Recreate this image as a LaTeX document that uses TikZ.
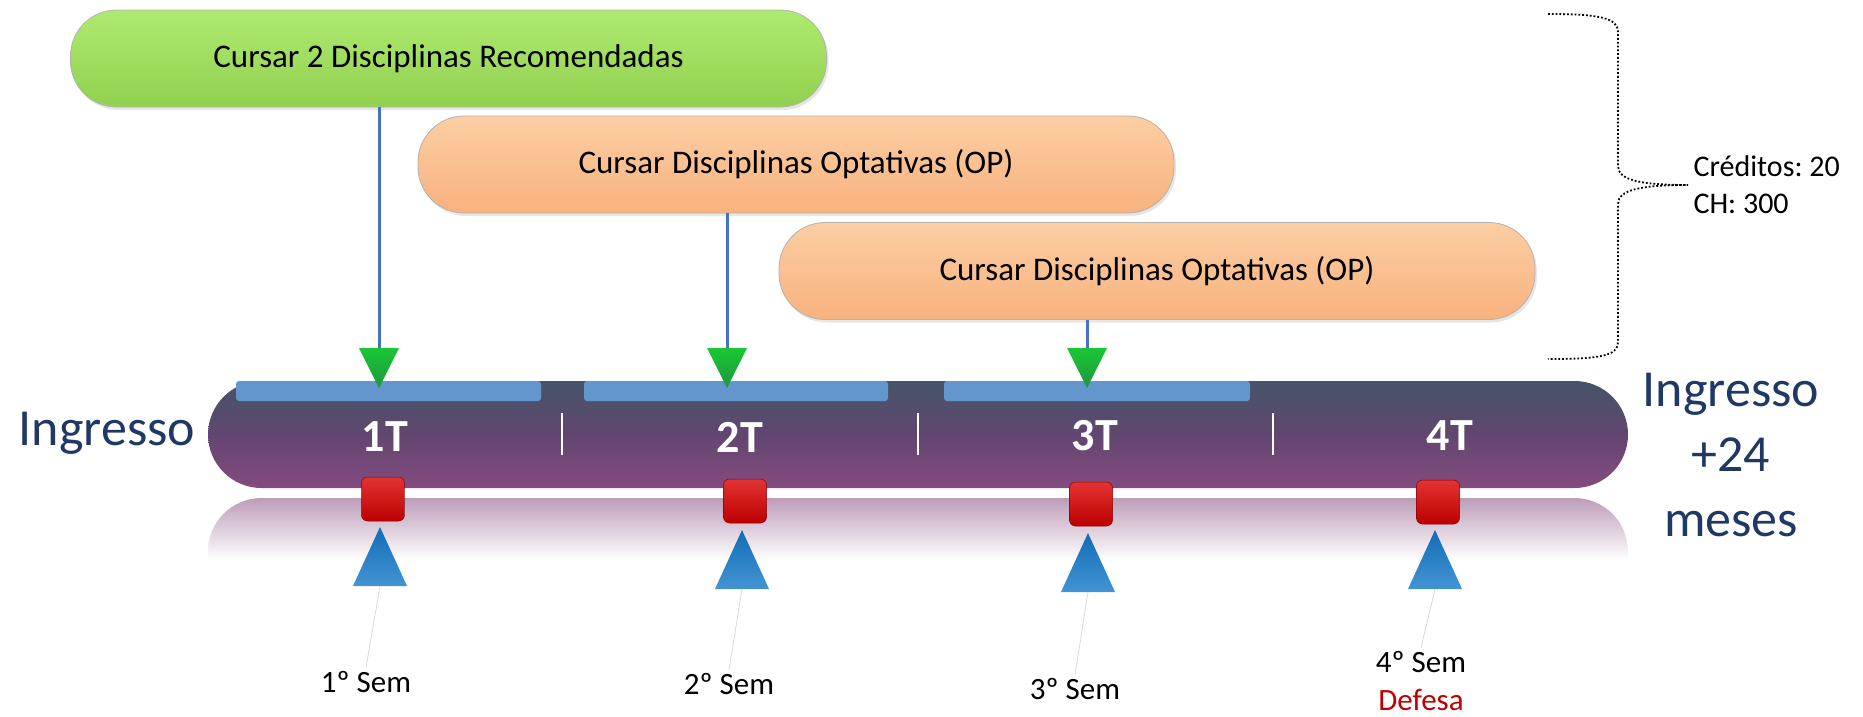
\documentclass[tikz,border=0pt]{standalone}
\usepackage{fontspec}
\setmainfont{Carlito}
\usepackage{xcolor}
\usepackage{tikz}
\usetikzlibrary{calc,shadows}
\frenchspacing
\definecolor{recgreen}{RGB}{146,208,80}
\definecolor{recgreenlt}{RGB}{174,234,112}
\definecolor{optorange}{RGB}{248,178,126}
\definecolor{optorangelt}{RGB}{252,206,164}
\definecolor{barslate}{RGB}{68,84,106}
\definecolor{barpurple}{RGB}{122,59,115}
\definecolor{segblue}{RGB}{98,150,204}
\definecolor{linkblue}{RGB}{68,114,196}
\definecolor{tipgreen}{RGB}{36,176,74}
\definecolor{markred}{RGB}{221,0,0}
\definecolor{semblue}{RGB}{20,121,201}
\definecolor{navy}{RGB}{31,56,100}
\definecolor{defred}{RGB}{192,0,0}
\tikzset{
  % caixas das disciplinas
  course/.style={
    draw=black!30,
    line width=0.8pt,
    rounded corners=46pt,
    minimum width=756pt,
    minimum height=97pt,
    font=\fontsize{33}{40}\selectfont,
    drop shadow={shadow xshift=2pt, shadow yshift=-3pt, opacity=0.2}
  },
  recbox/.style={course, top color=recgreenlt, bottom color=recgreen},
  optbox/.style={course, top color=optorangelt, bottom color=optorange},
  % linha do tempo
  timebar/.style={
    rounded corners=53.5pt,
    minimum width=1420pt,
    minimum height=107pt,
    top color=barslate,
    bottom color=barpurple!92!white,
    middle color=barpurple!55!barslate
  },
  quarter/.style={text=white, font=\bfseries\fontsize{46}{50}\selectfont},
  segment/.style={fill=segblue, rounded corners=3pt},
  sep/.style={draw=white, line width=2pt},
  % conectores e marcas
  link/.style={draw=linkblue, line width=3pt},
  downtip/.style={top color=tipgreen!70!green, bottom color=tipgreen!85!black},
  markbox/.style={
    minimum width=43pt,
    minimum height=44pt,
    rounded corners=6pt,
    top color=markred!80!white,
    bottom color=markred!85!black,
    draw=markred!60!black,
    line width=0.5pt
  },
  uptip/.style={top color=semblue!90!black, bottom color=semblue!80!white},
  leader/.style={draw=black!15, line width=0.8pt},
  semlabel/.style={font=\fontsize{31}{38}\selectfont, align=center},
  bigtext/.style={text=navy, font=\fontsize{52}{65}\selectfont, align=center},
  credit/.style={font=\fontsize{30}{37}\selectfont, align=left},
  brace/.style={draw=black, line width=1.8pt, dotted},
}

\begin{document}
\begin{tikzpicture}[x=1pt, y=-1pt]
    \useasboundingbox (0,0) rectangle (1863,716);

    % Reflexo da barra
    \begin{scope}
        \clip[rounded corners=53.5pt] (208,498) rectangle (1628,605);
        \shade[top color=barpurple!50!white, bottom color=white] (208,498) rectangle (1628,560);
    \end{scope}

    % Barra da linha do tempo
    \node[timebar] (bar) at (918,434.5) {};

    % Segmentos azuis
    \fill[segment] (236,381) rectangle (541,401);
    \fill[segment] (584,381) rectangle (888,401);
    \fill[segment] (944,381) rectangle (1250,401);

    % Separadores
    \draw[sep] (562,413) -- (562,455);
    \draw[sep] (918,413) -- (918,455);
    \draw[sep] (1273,413) -- (1273,455);

    \node[quarter] (q1) at (385,437) {1T};
    \node[quarter] (q2) at (740,437) {2T};
    \node[quarter] (q3) at (1095,436) {3T};
    \node[quarter] (q4) at (1450,436) {4T};

    % Disciplinas
    \node[recbox] (rec) at (448.5,58.5) {Cursar 2 Disciplinas Recomendadas};
    \node[optbox] (opt1) at (796,164.5) {Cursar Disciplinas Optativas (OP)};
    \node[optbox] (opt2) at (1157,271) {Cursar Disciplinas Optativas (OP)};

    % Setas verdes
    \coordinate (dn1) at (379,348);
    \coordinate (dn2) at (727,348);
    \coordinate (dn3) at (1087,348);
    \draw[link] (rec.south -| dn1) -- (dn1);
    \draw[link] (opt1.south -| dn2) -- (dn2);
    \draw[link] (opt2.south -| dn3) -- (dn3);
    \shade[downtip] (dn1) ++(-20,0) -- ++(40,0) -- ++(-20,40) -- cycle;
    \shade[downtip] (dn2) ++(-20,0) -- ++(40,0) -- ++(-20,40) -- cycle;
    \shade[downtip] (dn3) ++(-20,0) -- ++(40,0) -- ++(-20,40) -- cycle;

    % Marcas vermelhas
    \node[markbox] (m1) at (383,499) {};
    \node[markbox] (m2) at (745,501) {};
    \node[markbox] (m3) at (1091,504) {};
    \node[markbox] (m4) at (1438,502) {};

    % Semestres
    \node[semlabel] (sem1) at (366,682) {1º Sem};
    \node[semlabel] (sem2) at (729,684) {2º Sem};
    \node[semlabel] (sem3) at (1075,689) {3º Sem};
    \node[semlabel] (sem4) at (1421,681) {4º Sem\\\textcolor{defred}{Defesa}};

    \coordinate (up1) at (380,586);
    \coordinate (up2) at (742,589);
    \coordinate (up3) at (1088,592);
    \coordinate (up4) at (1435,589);
    \draw[leader] (up1) -- (sem1.north);
    \draw[leader] (up2) -- (sem2.north);
    \draw[leader] (up3) -- (sem3.north);
    \draw[leader] (up4) -- (sem4.north);
    \shade[uptip] (up1) ++(-27,0) -- ++(54,0) -- ++(-27,-59) -- cycle;
    \shade[uptip] (up2) ++(-27,0) -- ++(54,0) -- ++(-27,-59) -- cycle;
    \shade[uptip] (up3) ++(-27,0) -- ++(54,0) -- ++(-27,-59) -- cycle;
    \shade[uptip] (up4) ++(-27,0) -- ++(54,0) -- ++(-27,-59) -- cycle;

    % Inicio e fim
    \node[bigtext] (start) at (107,433) {Ingresso};
    \node[bigtext] (finish) at (1731,455) {Ingresso\\+24\\meses};

    % Chave de creditos
    \coordinate (tip) at (1688,185);
    \draw[brace] (1548,14) .. controls (1600,14) and (1618,18) .. (1618,32)
        -- (1618,166) .. controls (1618,180) and (1640,185) .. (tip)
        .. controls (1640,185) and (1618,190) .. (1618,204)
        -- (1618,342) .. controls (1618,356) and (1600,359) .. (1548,359);
    \node[credit, anchor=west] (cred) at ([xshift=2pt]tip) {Créditos: 20\\CH: 300};
\end{tikzpicture}
\end{document}
